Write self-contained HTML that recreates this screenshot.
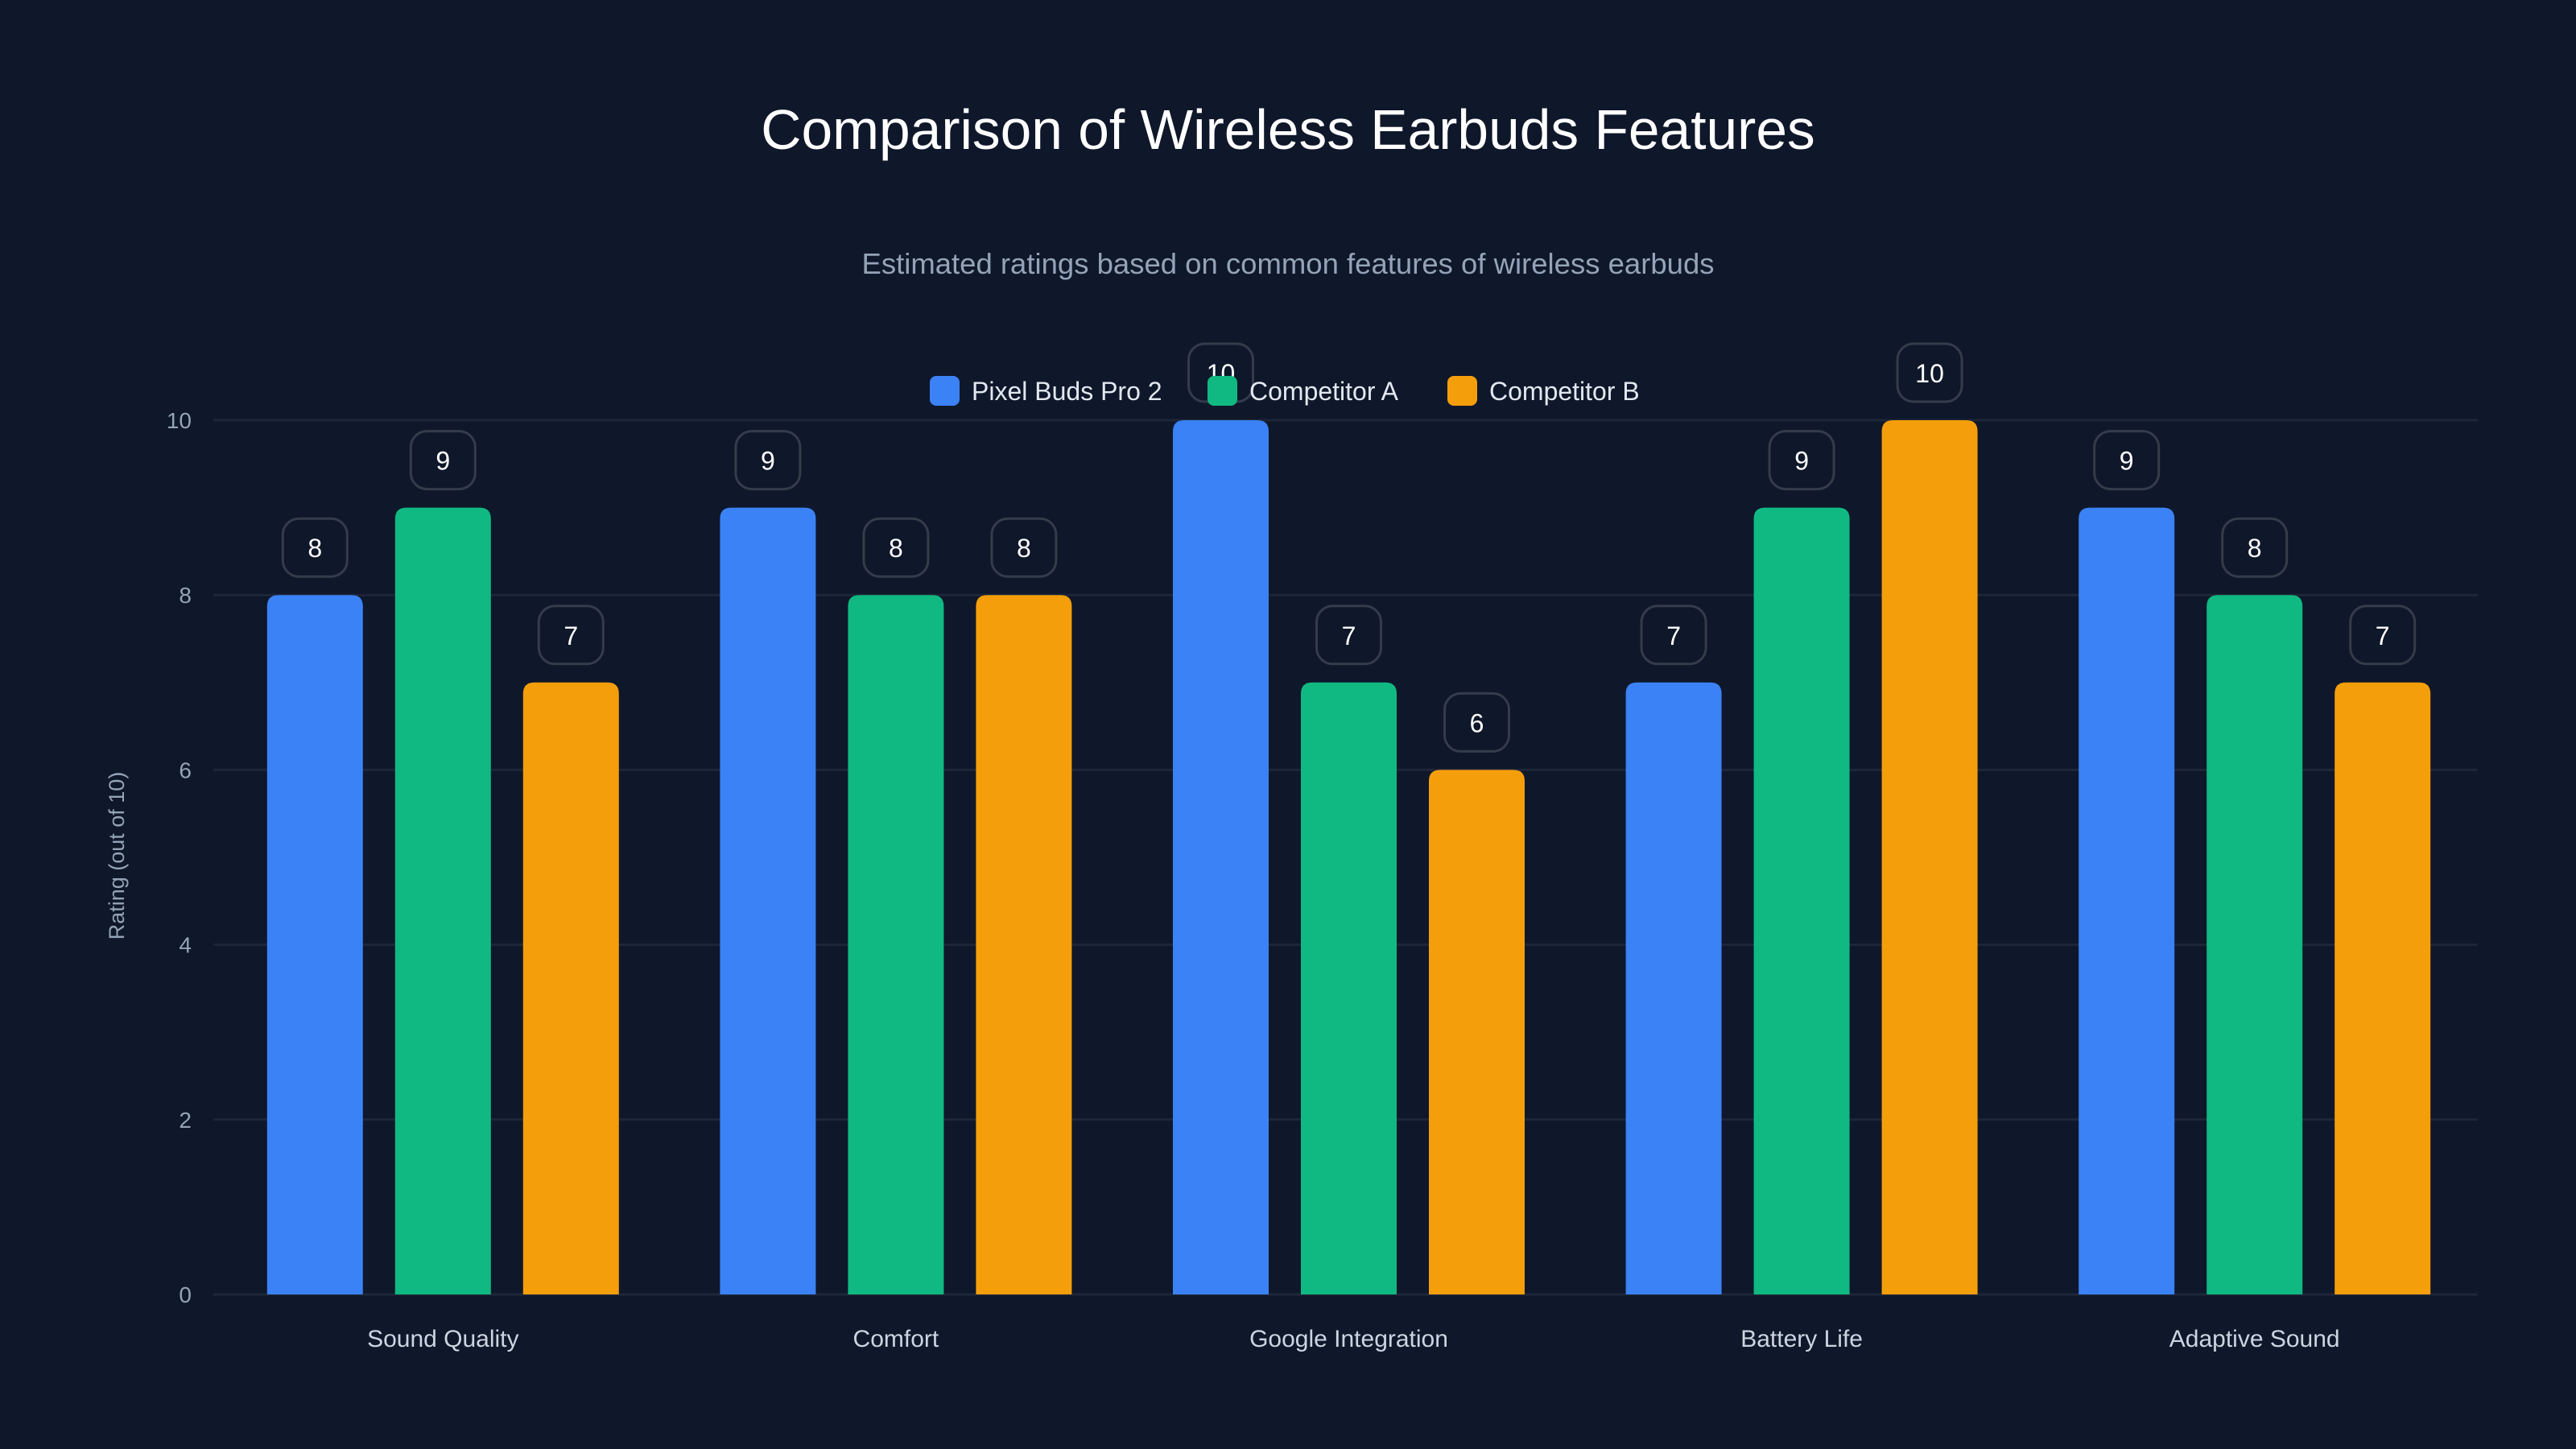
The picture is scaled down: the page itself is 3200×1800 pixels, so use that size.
<!DOCTYPE html>
<html><head><meta charset="utf-8"><style>
html,body{margin:0;padding:0;background:#0f172a;}
svg{display:block;font-family:"Liberation Sans",sans-serif;}
</style></head><body>
<svg id="chart" width="3200" height="1800" viewBox="0 0 3200 1800">
<rect width="3200" height="1800" fill="#0f172a"/>
<text x="1600" y="185" text-anchor="middle" fill="#ffffff" font-size="69.5">Comparison of Wireless Earbuds Features</text>
<text x="1600" y="340" text-anchor="middle" fill="#94a3b8" font-size="36.5">Estimated ratings based on common features of wireless earbuds</text>
<text transform="translate(154,1063) rotate(-90)" text-anchor="middle" fill="#94a3b8" font-size="27">Rating (out of 10)</text>
<g id="grid"></g><g id="bars"></g><g id="labels"></g><g id="legend"></g>
</svg>
<script>
const categories = ["Sound Quality","Comfort","Google Integration","Battery Life","Adaptive Sound"];
const seriesNames = ["Pixel Buds Pro 2","Competitor A","Competitor B"];
const pixelValues = [8,9,10,7,9];
const compAValues = [9,8,7,9,8];
const compBValues = [7,8,6,10,7];
const yTicks = [0,2,4,6,8,10];
const colors = ["#3b82f6","#10b981","#f59e0b"];
const NS="http://www.w3.org/2000/svg";
const L=265,R=3078,T=522,B=1608,YMAX=10;
const y=v=>B-(v/YMAX)*(B-T);
const gw=(R-L)/categories.length;
const bw=119,step=159;
const xc=i=>L+4+gw*(i+0.5);
function mk(tag,attrs,parent){const e=document.createElementNS(NS,tag);for(const k in attrs)e.setAttribute(k,attrs[k]);parent.appendChild(e);return e;}
const grid=document.getElementById('grid'),bars=document.getElementById('bars'),labels=document.getElementById('labels'),legend=document.getElementById('legend');
yTicks.forEach(t=>{
 const ln=mk('line',{x1:L,x2:R,y1:y(t),y2:y(t),stroke:'#1e2638','stroke-width':3},grid);
 
 
 const tx=mk('text',{x:238,y:y(t)+10,'text-anchor':'end',fill:'#94a3b8','font-size':28},grid);
 tx.textContent=t;
 
 
});
const series=[pixelValues,compAValues,compBValues];
categories.forEach((c,i)=>{
 series.forEach((vals,s)=>{
  const v=vals[i];const cx=xc(i)+(s-1)*step;const x0=cx-bw/2;const yt=y(v);const r=14;
  const p=mk('path',{d:`M${x0},${B} V${yt+r} Q${x0},${yt} ${x0+r},${yt} H${x0+bw-r} Q${x0+bw},${yt} ${x0+bw},${yt+r} V${B} Z`,fill:colors[s]},bars);
  
  
  const bx=mk('rect',{x:cx-40,y:yt-95,width:80,height:72,rx:20,fill:'#0f172a',stroke:'#343c4c','stroke-width':3},labels);
  
  
  const tx=mk('text',{x:cx,y:yt-47,'text-anchor':'middle',fill:'#ffffff','font-size':32},labels);
  tx.textContent=v;
  
  
 });
 const ct=mk('text',{x:xc(i),y:1673,'text-anchor':'middle',fill:'#cbd5e1','font-size':30},labels);
 ct.textContent=c;
 
 
});
const legX=[1155,1500,1798];
seriesNames.forEach((n,s)=>{
 const g=mk('g',{},legend);
 
 
 mk('rect',{x:legX[s],y:467,width:37,height:37,rx:8,fill:colors[s]},g);
 const t=mk('text',{x:legX[s]+52,y:497,fill:'#e2e8f0','font-size':32},g);
 t.textContent=n;
});
</script>
</body></html>
